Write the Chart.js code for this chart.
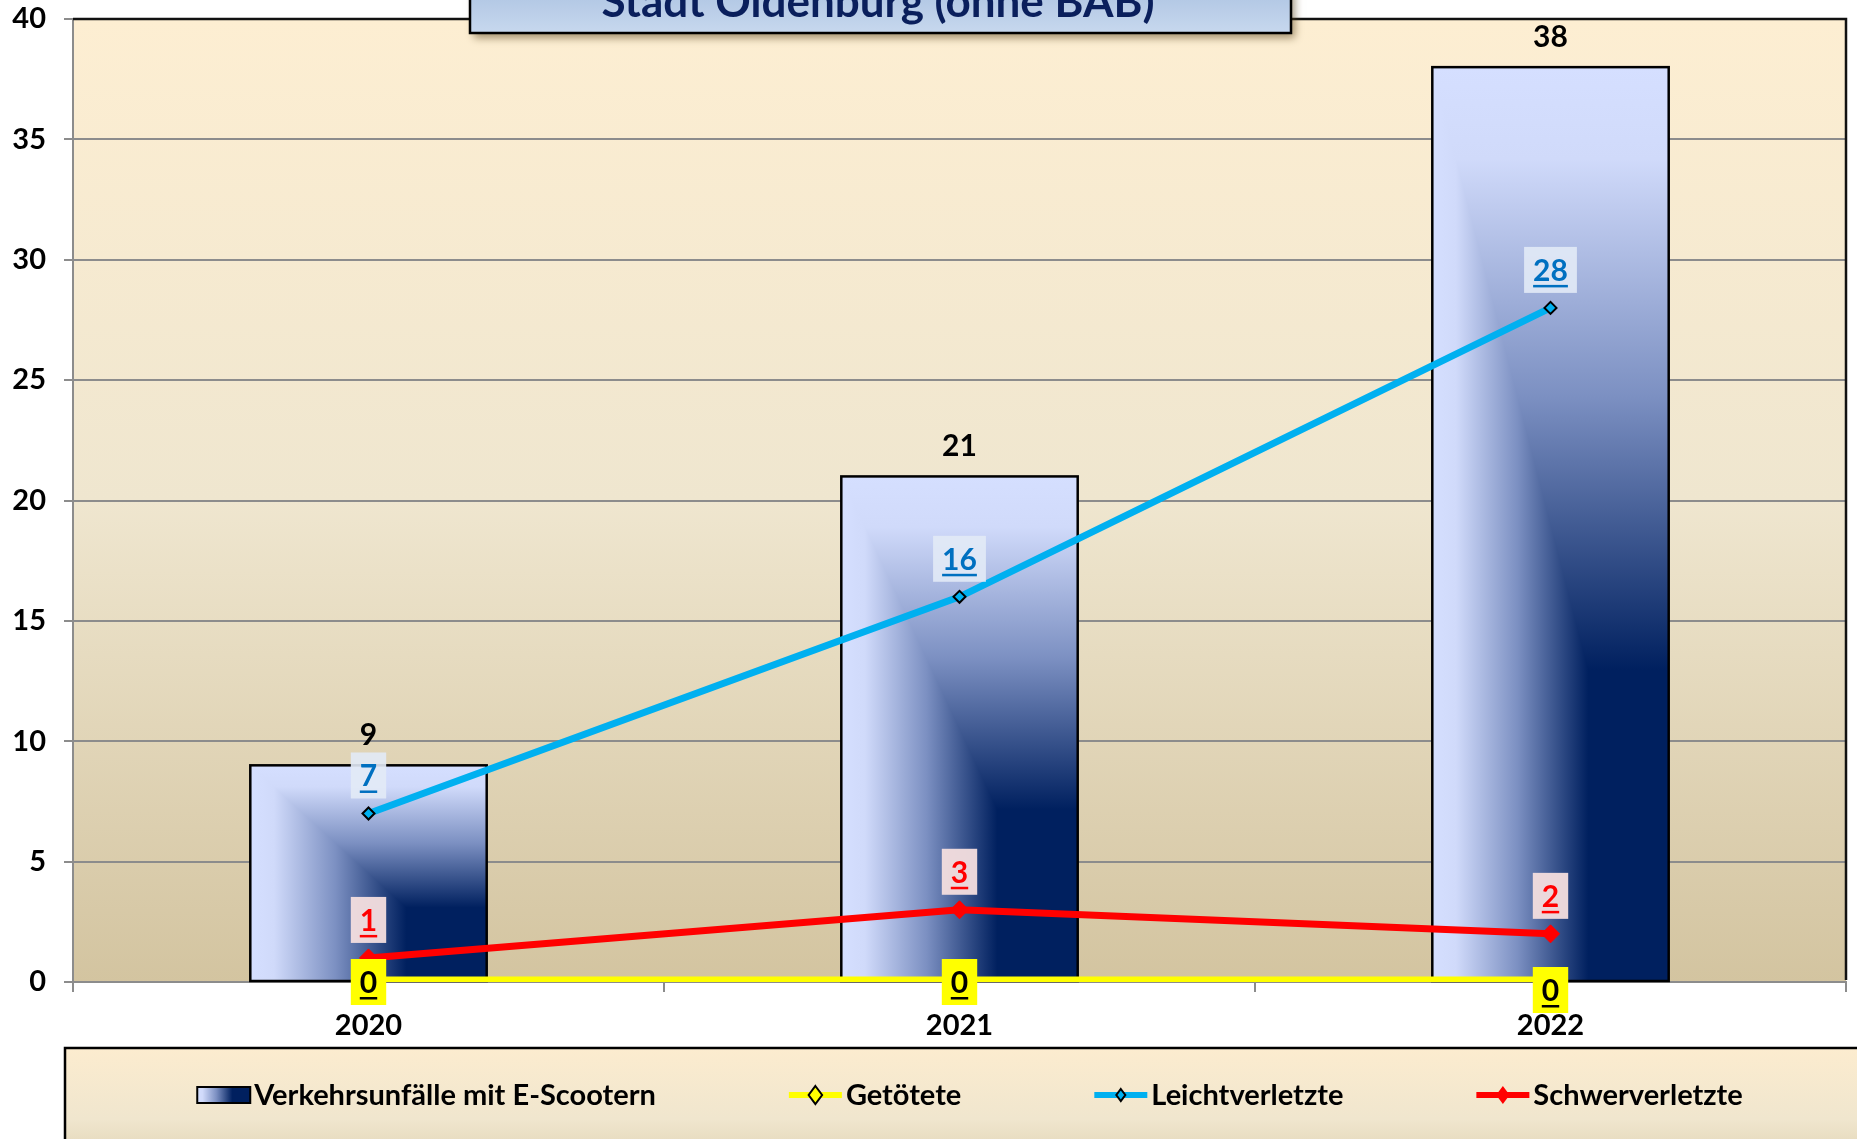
<!DOCTYPE html>
<html>
<head>
<meta charset="utf-8">
<script src="https://cdn.jsdelivr.net/npm/chart.js@4.4.1/dist/chart.umd.min.js"></script>
<style>
  html, body { margin: 0; padding: 0; background: #fff; }
  #wrap { width: 1857px; height: 1139px; position: relative; }
</style>
</head>
<body>
<div id="wrap"><canvas id="chart"></canvas></div>
<script>
const FONT = 'Lato, "Open Sans", sans-serif';

// data
const years = ['2020', '2021', '2022'];
const unfaelle = [9, 21, 38];
const getoetete = [0, 0, 0];
const leichtverletzte = [7, 16, 28];
const schwerverletzte = [1, 3, 2];
const seriesNames = ['Verkehrsunfälle mit E-Scootern', 'Getötete', 'Leichtverletzte', 'Schwerverletzte'];
const chartTitle = 'Stadt Oldenburg (ohne BAB)';
const yMin = 0, yMax = 40, yStep = 5;

const LIGHT = '#D5DFFF', NAVY = '#00205F';

function hGrad(ctx, x0, x1) {
  const g = ctx.createLinearGradient(x0, 0, x1, 0);
  g.addColorStop(0, LIGHT);
  g.addColorStop(0.1, '#D0DAFA');
  g.addColorStop(0.36, '#7C90C2');
  g.addColorStop(0.66, NAVY);
  g.addColorStop(1, NAVY);
  return g;
}
function vGrad(ctx, y0, y1) {
  const g = ctx.createLinearGradient(0, y0, 0, y1);
  g.addColorStop(0, LIGHT);
  g.addColorStop(0.1, '#D0DAFA');
  g.addColorStop(0.36, '#7C90C2');
  g.addColorStop(0.66, NAVY);
  g.addColorStop(1, NAVY);
  return g;
}

// plot background, bar shading, labels, title and legend
const plotBg = {
  id: 'plotBg',
  beforeDraw(chart) {
    const { ctx, chartArea: a } = chart;
    ctx.save();
    const g = ctx.createLinearGradient(0, a.top, 0, a.bottom);
    g.addColorStop(0, '#FDEED2');
    g.addColorStop(0.5, '#EFE6CF');
    g.addColorStop(1, '#D3C4A0');
    ctx.fillStyle = g;
    ctx.fillRect(a.left, a.top, a.right - a.left, a.bottom - a.top);
    ctx.restore();
  },
  afterDatasetDraw(chart, args) {
    if (args.index !== 0) return;
    const { ctx } = chart;
    args.meta.data.forEach(bar => {
      const p = bar.getProps(['x', 'y', 'base', 'width'], true);
      const l = p.x - p.width / 2, r = p.x + p.width / 2, t = p.y, b = p.base;
      ctx.save();
      ctx.fillStyle = hGrad(ctx, l, r);
      ctx.fillRect(l, t, r - l, b - t);
      ctx.beginPath();
      ctx.moveTo(l, t); ctx.lineTo(r, t); ctx.lineTo(r, b); ctx.closePath();
      ctx.clip();
      ctx.fillStyle = vGrad(ctx, t, b);
      ctx.fillRect(l, t, r - l, b - t);
      ctx.restore();
      ctx.save();
      ctx.strokeStyle = '#000';
      ctx.lineWidth = 2.5;
      ctx.strokeRect(l, t, r - l, b - t);
      ctx.restore();
    });
  },
  afterDatasetsDraw(chart) {
    const { ctx, chartArea: a } = chart;
    ctx.save();
    ctx.strokeStyle = '#111';
    ctx.lineWidth = 2.5;
    ctx.beginPath();
    ctx.moveTo(a.left, a.top); ctx.lineTo(a.right, a.top); ctx.lineTo(a.right, a.bottom - 2);
    ctx.stroke();
    ctx.restore();

    const label = (txt, x, cy, color, bg, underline) => {
      ctx.font = 'bold 30px ' + FONT;
      const tw = ctx.measureText(txt).width;
      if (bg) {
        ctx.fillStyle = bg;
        ctx.fillRect(x - tw / 2 - 9, cy - 23, tw + 18, 46);
      }
      ctx.fillStyle = color;
      ctx.textAlign = 'center';
      ctx.textBaseline = 'alphabetic';
      ctx.fillText(txt, x, cy + 11);
      if (underline) ctx.fillRect(x - tw / 2, cy + 15, tw, 2.5);
    };
    ctx.save();
    chart.getDatasetMeta(0).data.forEach((el, i) => label(String(unfaelle[i]), el.x, el.y - 31, '#000', null, false));
    chart.getDatasetMeta(2).data.forEach((el, i) => label(String(leichtverletzte[i]), el.x, el.y - 38, '#0070C0', 'rgba(226,234,246,0.9)', true));
    chart.getDatasetMeta(3).data.forEach((el, i) => label(String(schwerverletzte[i]), el.x, el.y - 38, '#FF0000', 'rgba(244,222,222,0.95)', true));
    chart.getDatasetMeta(1).data.forEach((el, i) => label(String(getoetete[i]), el.x, el.y + (i === 2 ? 8 : 0), '#000', '#FFFF00', true));
    ctx.restore();
  },
  afterDraw(chart) {
    const { ctx } = chart;
    // title box
    ctx.save();
    ctx.shadowColor = 'rgba(90,70,30,0.55)';
    ctx.shadowBlur = 8;
    ctx.shadowOffsetX = 4;
    ctx.shadowOffsetY = 5;
    const tg = ctx.createLinearGradient(0, -20, 0, 33);
    tg.addColorStop(0, '#A9C0E0');
    tg.addColorStop(1, '#C7D8EE');
    ctx.fillStyle = tg;
    ctx.fillRect(470, -20, 821, 53);
    ctx.restore();
    ctx.save();
    ctx.strokeStyle = '#000';
    ctx.lineWidth = 2.5;
    ctx.strokeRect(470, -20, 821, 53);
    ctx.fillStyle = '#0A1F5C';
    ctx.font = 'bold 44px ' + FONT;
    ctx.textAlign = 'center';
    ctx.textBaseline = 'alphabetic';
    ctx.fillText(chartTitle, 878, 17);
    ctx.restore();

    // legend box
    ctx.save();
    const lg = ctx.createLinearGradient(0, 1048, 0, 1190);
    lg.addColorStop(0, '#FCECCF');
    lg.addColorStop(0.5, '#F0E6CE');
    lg.addColorStop(1, '#D6C8A4');
    ctx.fillStyle = lg;
    ctx.fillRect(65, 1048, 1857, 200);
    ctx.strokeStyle = '#000';
    ctx.lineWidth = 2.5;
    ctx.strokeRect(65, 1048, 1857, 200);

    ctx.font = 'bold 29px ' + FONT;
    const symW = 53, gapT = 4, gapI = 133, cy = 1095;
    const widths = seriesNames.map(n => symW + gapT + ctx.measureText(n).width);
    const total = widths.reduce((a, b) => a + b, 0) + gapI * (seriesNames.length - 1);
    let x = 970 - total / 2;
    const ds = chart.data.datasets;
    seriesNames.forEach((name, i) => {
      if (i === 0) {
        ctx.fillStyle = hGrad(ctx, x, x + symW);
        ctx.fillRect(x, cy - 8, symW, 16);
        ctx.lineWidth = 2;
        ctx.strokeStyle = '#000';
        ctx.strokeRect(x, cy - 8, symW, 16);
      } else {
        const d = ds[i];
        ctx.strokeStyle = d.borderColor;
        ctx.lineWidth = 6;
        ctx.beginPath(); ctx.moveTo(x, cy); ctx.lineTo(x + symW, cy); ctx.stroke();
        const r = i === 2 ? 6 : 9;
        ctx.beginPath();
        ctx.moveTo(x + symW / 2, cy - r); ctx.lineTo(x + symW / 2 + r * 0.75, cy);
        ctx.lineTo(x + symW / 2, cy + r); ctx.lineTo(x + symW / 2 - r * 0.75, cy); ctx.closePath();
        ctx.fillStyle = d.pointBackgroundColor;
        ctx.fill();
        if (i !== 3) { ctx.lineWidth = 2; ctx.strokeStyle = '#000'; ctx.stroke(); }
      }
      ctx.fillStyle = '#000';
      ctx.textAlign = 'left';
      ctx.textBaseline = 'middle';
      ctx.fillText(name, x + symW + gapT, cy + 1);
      x += widths[i] + gapI;
    });
    ctx.restore();
  }
};

new Chart(document.getElementById('chart'), {
  data: {
    labels: years,
    datasets: [
      {
        type: 'bar',
        label: seriesNames[0],
        data: unfaelle,
        backgroundColor: '#5A70A8',
        borderWidth: 0,
        categoryPercentage: 1,
        barPercentage: 0.4,
        order: 10
      },
      {
        type: 'line',
        label: seriesNames[1],
        data: getoetete,
        borderColor: '#FFFF00',
        borderWidth: 11,
        pointStyle: 'rectRot',
        pointRadius: 7,
        pointBackgroundColor: '#FFFF00',
        pointBorderColor: '#000',
        pointBorderWidth: 2,
        tension: 0,
        order: 3
      },
      {
        type: 'line',
        label: seriesNames[2],
        data: leichtverletzte,
        borderColor: '#00B0F0',
        borderWidth: 7,
        pointStyle: 'rectRot',
        pointRadius: 6,
        pointBackgroundColor: '#00B0F0',
        pointBorderColor: '#000',
        pointBorderWidth: 2,
        tension: 0,
        order: 2
      },
      {
        type: 'line',
        label: seriesNames[3],
        data: schwerverletzte,
        borderColor: '#FF0000',
        borderWidth: 7,
        pointStyle: 'rectRot',
        pointRadius: 9,
        pointBackgroundColor: '#FF0000',
        pointBorderColor: '#FF0000',
        pointBorderWidth: 1,
        tension: 0,
        order: 1
      }
    ]
  },
  options: {
    responsive: true,
    maintainAspectRatio: false,
    animation: false,
    devicePixelRatio: 1,
    layout: { padding: { left: 0, top: 19, right: 11, bottom: 0 } },
    plugins: {
      legend: { display: false },
      title: { display: false },
      tooltip: { enabled: false }
    },
    scales: {
      x: {
        offset: true,
        grid: { offset: true, drawOnChartArea: false, drawTicks: true, tickLength: 10, color: '#8C8C8C', lineWidth: 2 },
        border: { color: '#8C8C8C', width: 2 },
        ticks: { color: '#000', font: { family: FONT, size: 29, weight: 'bold' }, padding: 16 },
        afterFit(scale) { scale.height = 157; scale.paddingLeft = 0; scale.paddingRight = 0; }
      },
      y: {
        min: yMin,
        max: yMax,
        ticks: { stepSize: yStep, color: '#000', font: { family: FONT, size: 29, weight: 'bold' }, padding: 18 },
        grid: { color: '#8C8C8C', lineWidth: 2, tickLength: 9 },
        border: { color: '#8C8C8C', width: 2 },
        afterFit(scale) { scale.width = 73; scale.paddingTop = 0; scale.paddingBottom = 0; }
      }
    }
  },
  plugins: [plotBg]
});
</script>
</body>
</html>
